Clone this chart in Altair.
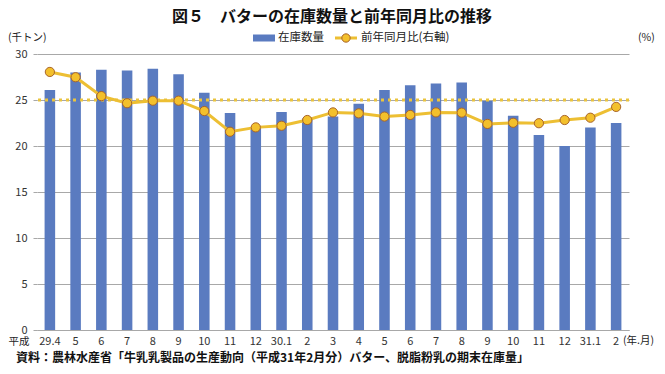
import altair as alt
import pandas as pd

FONT = "Noto Sans CJK JP"

# ---- data ----
months = ["29.4", "5", "6", "7", "8", "9", "10", "11", "12", "30.1", "2", "3",
          "4", "5", "6", "7", "8", "9", "10", "11", "12", "31.1", "2"]
stock = [26.1, 28.0, 28.3, 28.2, 28.4, 27.8, 25.8, 23.6, 22.0, 23.7, 23.0, 23.2,
         24.6, 26.1, 26.6, 26.8, 26.9, 24.9, 23.3, 21.2, 20.0, 22.0, 22.5]
yoy = [112.2, 109.9, 101.7, 98.6, 99.7, 99.7, 95.2, 86.2, 88.1, 88.8, 91.3, 94.6,
       94.2, 92.8, 93.5, 94.6, 94.5, 89.6, 90.1, 89.9, 91.3, 92.3, 97.0]
ref_level = [100]

title_text = ["図５　バターの在庫数量と前年同月比の推移"]
legend_labels = ["在庫数量", "前年同月比(右軸)"]
left_unit = ["(千トン)"]
right_unit = ["(%)"]
era_label = ["平成"]
x_unit = ["(年.月)"]
source_note = ["資料：農林水産省「牛乳乳製品の生産動向（平成31年2月分）バター、脱脂粉乳の期末在庫量」"]

BAR = "#5A7BC0"
LINE = "#EDBF33"
PT_FILL = "#F3C02C"
PT_STROKE = "#A8642A"
GRID = "#A8A8A8"

W, H = 592, 276

keys = [f"{i:02d}|{m}" for i, m in enumerate(months)]
df = pd.DataFrame({"key": keys, "stock": stock, "yoy": yoy})

x_enc = alt.X(
    "key:O", sort=keys,
    scale=alt.Scale(paddingInner=0.59, paddingOuter=0.295),
    axis=alt.Axis(title=None, labelAngle=0, ticks=False, domain=True,
                  domainColor=GRID, labelPadding=5, labelFontSize=11,
                  labelExpr="split(datum.label, '|')[1]"),
)

bars = alt.Chart(df).mark_bar(color=BAR).encode(
    x=x_enc,
    y=alt.Y("stock:Q", scale=alt.Scale(domain=[0, 30]),
            axis=alt.Axis(title=None, orient="left", values=[0, 5, 10, 15, 20, 25, 30],
                          grid=True, gridColor=GRID, domain=False, tickSize=4,
                          tickColor=GRID, labelPadding=6, labelFontSize=11)),
)

y_right = alt.Y("yoy:Q", scale=alt.Scale(domain=[0, 120]),
                axis=alt.Axis(title=None, orient="right", values=[0, 20, 40, 60, 80, 100, 120],
                              grid=False, domain=True, domainColor=GRID, tickSize=3,
                              tickColor=GRID, labelPadding=3, labelFontSize=11))

rule = alt.Chart(pd.DataFrame({"v": ref_level})).mark_rule(
    color="#EAC43E", strokeWidth=3, strokeDash=[3, 4]
).encode(y=alt.Y("v:Q", scale=alt.Scale(domain=[0, 120]), axis=None))

line = alt.Chart(df).mark_line(color=LINE, strokeWidth=3).encode(x=x_enc, y=y_right)
points = alt.Chart(df).mark_point(
    shape="circle", filled=True, size=85, fill=PT_FILL, stroke=PT_STROKE,
    strokeWidth=1, opacity=1
).encode(x=x_enc, y=y_right)

right_layer = alt.layer(rule, line, points)

one = pd.DataFrame({"a": [0]})


def txt(s, x, y, size=11, align="left", weight="normal", color="#222"):
    return alt.Chart(pd.DataFrame({"t": s})).mark_text(
        align=align, baseline="middle", fontSize=size, font=FONT,
        fontWeight=weight, color=color
    ).encode(text="t:N", x=alt.value(x), y=alt.value(y))


title = txt(title_text, 295, -37, size=16, align="center", weight="bold", color="#111")
leg_rect = alt.Chart(one).mark_rect(color=BAR).encode(
    x=alt.value(216), x2=alt.value(238), y=alt.value(-19.5), y2=alt.value(-12.5))
leg_t1 = txt([legend_labels[0]], 241, -16, size=11.5)
leg_line = alt.Chart(one).mark_rule(color=LINE, strokeWidth=3).encode(
    x=alt.value(298), x2=alt.value(320), y=alt.value(-16))
leg_pt = alt.Chart(one).mark_point(
    shape="circle", filled=True, size=70, fill=PT_FILL, stroke=PT_STROKE,
    strokeWidth=1, opacity=1).encode(x=alt.value(309), y=alt.value(-16))
leg_t2 = txt([legend_labels[1]], 324, -16, size=11.5)

lu = txt(left_unit, -29, -16, size=10.5)
ru = txt(right_unit, 601, -16, size=10.5)
era = txt(era_label, -18, H + 12, size=10.5, align="center")
xu = txt(x_unit, 586, H + 11, size=10.5)
src = txt(source_note, -21, H + 28, size=12, weight="bold", color="#111")

main = alt.layer(bars, right_layer).resolve_scale(y="independent")

chart = alt.layer(
    main, title, leg_rect, leg_t1, leg_line, leg_pt, leg_t2, lu, ru, era, xu, src
).properties(
    width=W, height=H,
    autosize=alt.AutoSizeParams(type="none"),
    padding={"left": 29, "top": 46, "right": 28, "bottom": 36},
).configure_view(stroke=None).configure_axis(
    labelFont=FONT, labelColor="#333"
)

chart.save("out.html", embed_options={"renderer": "svg", "actions": False})
